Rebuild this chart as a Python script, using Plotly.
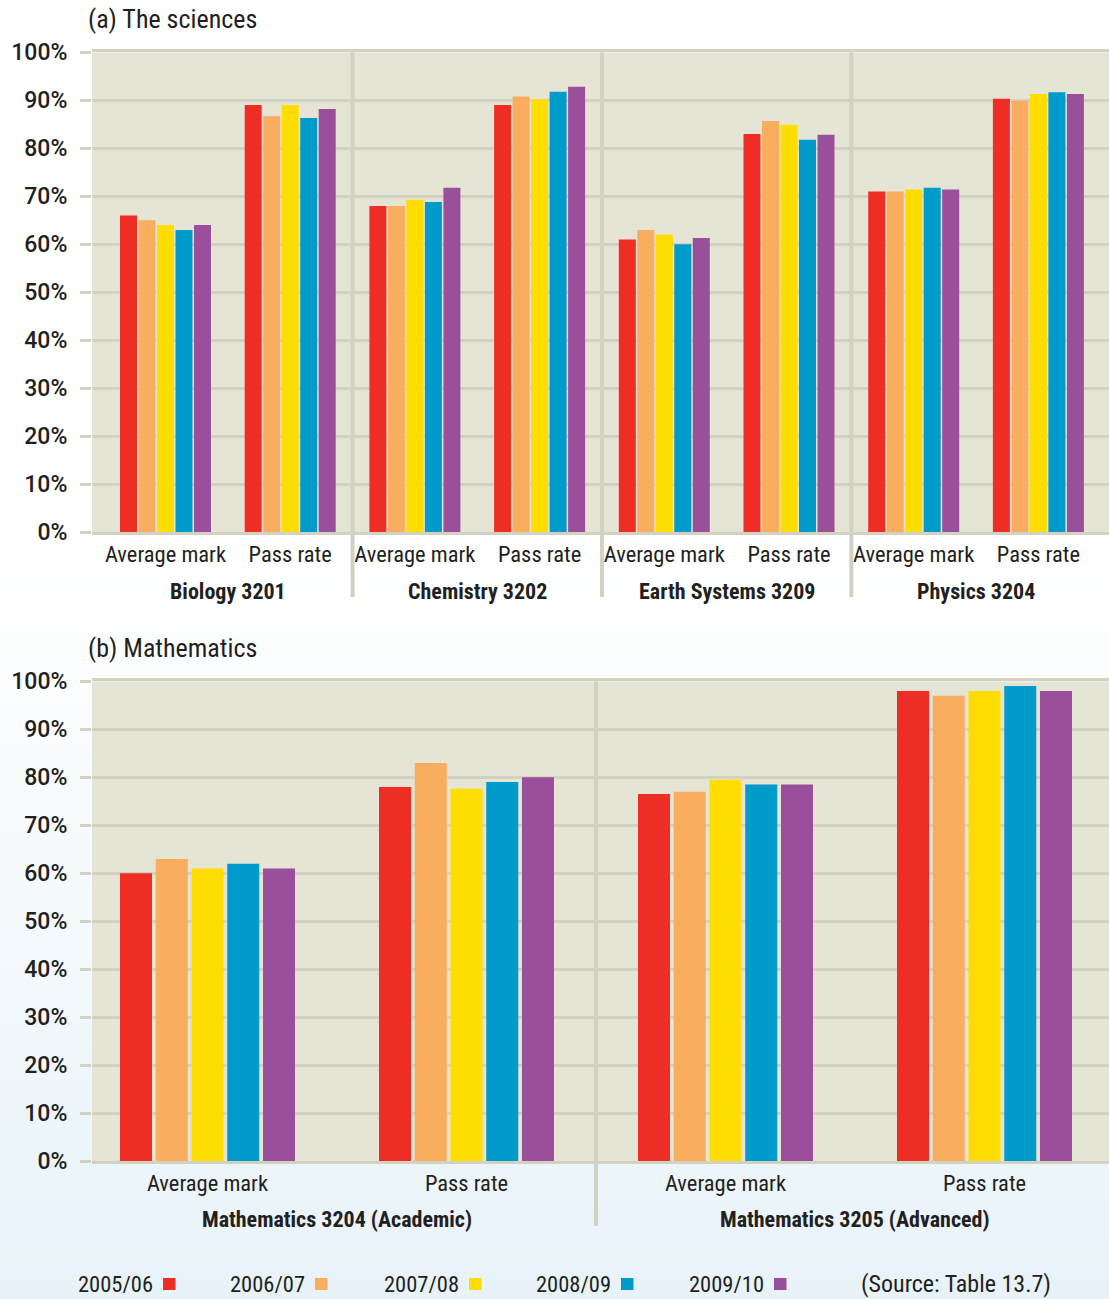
import plotly.graph_objects as go

# ---------------- data ----------------
years = ["2005/06", "2006/07", "2007/08", "2008/09", "2009/10"]
year_colors = ["#ee2e24", "#f9ad5f", "#ffdd00", "#009bca", "#9a4f9b"]
measures = ["Average mark", "Pass rate"]

science_subjects = ["Biology 3201", "Chemistry 3202", "Earth Systems 3209", "Physics 3204"]
math_subjects = ["Mathematics 3204 (Academic)", "Mathematics 3205 (Advanced)"]

# order per subject: Average mark, Pass rate
sci_2005_06 = [66, 89, 68, 89, 61, 83, 71, 90.3]
sci_2006_07 = [65, 86.7, 68, 90.8, 63, 85.7, 71, 89.9]
sci_2007_08 = [64, 89, 69.3, 90.2, 62, 84.9, 71.4, 91.3]
sci_2008_09 = [63, 86.3, 68.8, 91.8, 60, 81.8, 71.8, 91.7]
sci_2009_10 = [64, 88.2, 71.8, 92.8, 61.3, 82.8, 71.4, 91.3]

math_2005_06 = [60, 78, 76.5, 98]
math_2006_07 = [63, 83, 77, 97]
math_2007_08 = [61, 77.6, 79.5, 98]
math_2008_09 = [62, 79, 78.5, 99]
math_2009_10 = [61, 80, 78.5, 98]

sci_values = [sci_2005_06, sci_2006_07, sci_2007_08, sci_2008_09, sci_2009_10]
math_values = [math_2005_06, math_2006_07, math_2007_08, math_2008_09, math_2009_10]

y_tick_vals = list(range(0, 101, 10))
y_tick_text = [f"{v}%" for v in y_tick_vals]

title_a = "(a) The sciences"
title_b = "(b) Mathematics"
source_text = "(Source: Table 13.7)"

# ---------------- style ----------------
W, H = 1109, 1299
PLOT_BG = "#e6e4d5"
GRID = "#d3d1c1"
TEXT = "#231f20"
COND = "Roboto Condensed, Liberation Sans Narrow, Arial Narrow, sans-serif"
TICKF = "Roboto, Liberation Sans, Arial, sans-serif"


def fx(p):
    return p / W


def fy(p):
    return 1 - p / H


sci_x = list(range(len(science_subjects) * len(measures)))
sci_ticktext = measures * len(science_subjects)
math_x = list(range(len(math_subjects) * len(measures)))
math_ticktext = measures * len(math_subjects)

# bar geometry (in category units)
top_cat = 124.7
top_pitch, top_w, top_o0 = 18.5 / top_cat, 17 / top_cat, -45.5 / top_cat
bot_cat = 259.0
bot_pitch, bot_w, bot_o0 = 35.75 / bot_cat, 32 / bot_cat, -87.5 / bot_cat

top_range = [-(165.5 - 92) / top_cat, -(165.5 - 92) / top_cat + 1017 / top_cat]
bot_range = [-(207.5 - 92) / bot_cat, -(207.5 - 92) / bot_cat + 1017 / bot_cat]

fig = go.Figure()
for i, (yr, col) in enumerate(zip(years, year_colors)):
    fig.add_trace(go.Bar(
        x=sci_x, y=sci_values[i], name=yr, xaxis="x", yaxis="y",
        marker=dict(color=col, line=dict(width=0)),
        offset=top_o0 + i * top_pitch, width=top_w, showlegend=False,
    ))
    fig.add_trace(go.Bar(
        x=math_x, y=math_values[i], name=yr, xaxis="x2", yaxis="y2",
        marker=dict(color=col, line=dict(width=0)),
        offset=bot_o0 + i * bot_pitch, width=bot_w, showlegend=False,
    ))

shapes = []
# page gradient (white -> pale blue)
n_bands = 40
y_start = 560
c0 = (255, 255, 255)
c1 = (232, 243, 249)
band_h = (H - y_start) / n_bands
for k in range(n_bands):
    t = (k + 0.5) / n_bands
    c = tuple(round(c0[j] + (c1[j] - c0[j]) * t) for j in range(3))
    shapes.append(dict(type="rect", xref="paper", yref="paper", layer="below",
                       x0=0, x1=1, y0=fy(y_start + (k + 1) * band_h + 0.5),
                       y1=fy(y_start + k * band_h),
                       fillcolor="rgb(%d,%d,%d)" % c, line=dict(width=0)))
# plot backgrounds
shapes.append(dict(type="rect", xref="x", yref="y", layer="below",
                   x0=top_range[0], x1=top_range[1], y0=0, y1=100,
                   fillcolor=PLOT_BG, line=dict(width=0)))
shapes.append(dict(type="rect", xref="x2", yref="y2", layer="below",
                   x0=bot_range[0], x1=bot_range[1], y0=0, y1=100,
                   fillcolor=PLOT_BG, line=dict(width=0)))
# subject dividers
for s in range(1, len(science_subjects)):
    xd = s * len(measures) - 0.5
    shapes.append(dict(type="line", xref="x", yref="paper", layer="above",
                       x0=xd, x1=xd, y0=fy(597), y1=fy(52.3),
                       line=dict(color=GRID, width=4)))
for s in range(1, len(math_subjects)):
    xd = s * len(measures) - 0.5
    shapes.append(dict(type="line", xref="x2", yref="paper", layer="above",
                       x0=xd, x1=xd, y0=fy(1226), y1=fy(681.3),
                       line=dict(color=GRID, width=4)))

annotations = []
annotations.append(dict(text=title_a, xref="paper", yref="paper", x=fx(86), y=fy(19),
                        xanchor="left", yanchor="middle", showarrow=False,
                        font=dict(family=COND, size=26, color=TEXT)))
annotations.append(dict(text=title_b, xref="paper", yref="paper", x=fx(86), y=fy(648),
                        xanchor="left", yanchor="middle", showarrow=False,
                        font=dict(family=COND, size=26, color=TEXT)))
for s, name in enumerate(science_subjects):
    annotations.append(dict(text="<b>%s</b>" % name, xref="x", yref="paper",
                            x=s * len(measures) + 0.5, y=fy(591),
                            xanchor="center", yanchor="middle", showarrow=False,
                            font=dict(family=COND, size=22, color=TEXT)))
for s, name in enumerate(math_subjects):
    annotations.append(dict(text="<b>%s</b>" % name, xref="x2", yref="paper",
                            x=s * len(measures) + 0.5, y=fy(1219),
                            xanchor="center", yanchor="middle", showarrow=False,
                            font=dict(family=COND, size=22, color=TEXT)))

# legend (text then colour square)
legend_left = [76, 228, 382, 534, 687]
for yr, col, lx in zip(years, year_colors, legend_left):
    annotations.append(dict(text=yr, xref="paper", yref="paper", x=fx(lx), y=fy(1284),
                            xanchor="left", yanchor="middle", showarrow=False,
                            font=dict(family=COND, size=22.5, color=TEXT)))
    shapes.append(dict(type="rect", xref="paper", yref="paper", layer="above",
                       x0=fx(lx + 87), x1=fx(lx + 99.5), y0=fy(1290), y1=fy(1278),
                       fillcolor=col, line=dict(width=0)))
annotations.append(dict(text=source_text, xref="paper", yref="paper", x=fx(859), y=fy(1284),
                        xanchor="left", yanchor="middle", showarrow=False,
                        font=dict(family=COND, size=24, color=TEXT)))

xaxis_common = dict(showgrid=False, zeroline=False, ticks="", showline=True, mirror=True,
                    linecolor=GRID, linewidth=3, automargin=False,
                    tickfont=dict(family=COND, size=22.5, color=TEXT), ticklabelstandoff=0)
yaxis_common = dict(range=[0, 100], tickvals=y_tick_vals, ticktext=y_tick_text,
                    showgrid=True, gridcolor=GRID, gridwidth=3, zeroline=False,
                    ticks="outside", ticklen=11, tickwidth=3, tickcolor=GRID,
                    tickfont=dict(family=TICKF, size=23, color=TEXT, weight=500),
                    ticklabelstandoff=8, showline=False, automargin=False)

fig.update_layout(
    width=W, height=H,
    margin=dict(l=0, r=0, t=0, b=0, autoexpand=False),
    paper_bgcolor="white", plot_bgcolor="rgba(0,0,0,0)",
    barmode="overlay", showlegend=False,
    xaxis=dict(domain=[fx(92), 1], range=top_range, tickvals=sci_x, ticktext=sci_ticktext,
               anchor="y", **xaxis_common),
    yaxis=dict(domain=[fy(532.3), fy(52.3)], anchor="x", **yaxis_common),
    xaxis2=dict(domain=[fx(92), 1], range=bot_range, tickvals=math_x, ticktext=math_ticktext,
                anchor="y2", **xaxis_common),
    yaxis2=dict(domain=[fy(1161.3), fy(681.3)], anchor="x2", **yaxis_common),
    shapes=shapes, annotations=annotations,
)

# remove the default page margin so the figure fills the window exactly
page_js = "document.body.style.margin='0';document.body.style.overflow='hidden';"
fig.write_html("out.html", config={"displayModeBar": False}, post_script=page_js)
